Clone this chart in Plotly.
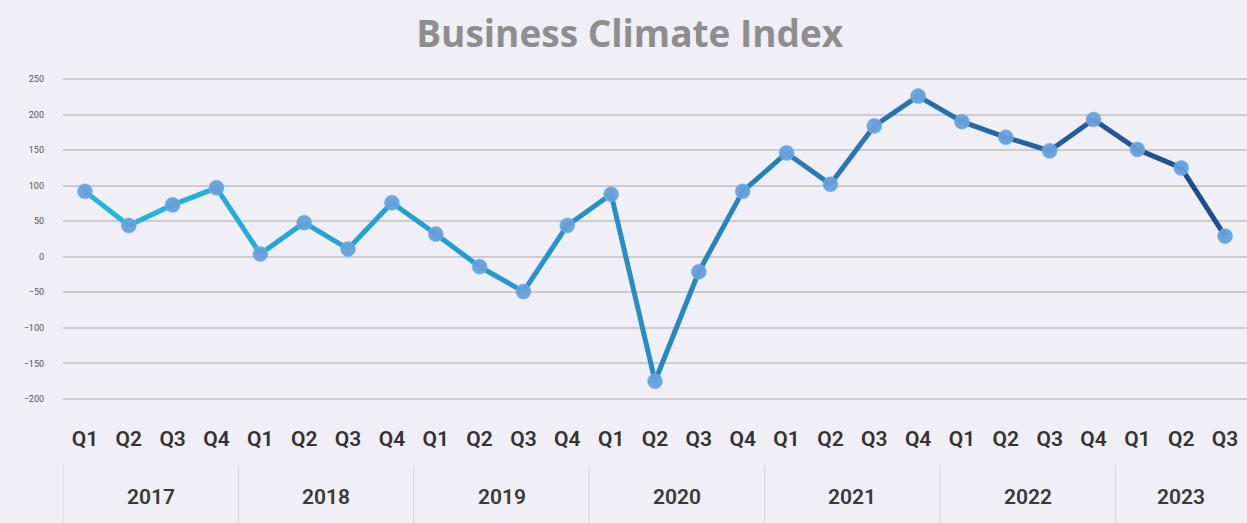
import plotly.graph_objects as go

years = ['2017', '2018', '2019', '2020', '2021', '2022', '2023']
quarters_per_year = [4, 4, 4, 4, 4, 4, 3]
quarters = ['Q1', 'Q2', 'Q3', 'Q4'] * 6 + ['Q1', 'Q2', 'Q3']
index_values = [92, 44, 73, 97,
                4, 48, 11, 76,
                32, -14, -49, 44,
                88, -175, -21, 92,
                146, 102, 184, 226,
                190, 168, 149, 193,
                151, 125, 29]
y_ticks = [250, 200, 150, 100, 50, 0, -50, -100, -150, -200]

xpos = list(range(len(index_values)))

# line fades from cyan to dark blue, left to right
stops = [(0.0, (34, 184, 224)), (0.45, (38, 144, 200)), (0.75, (40, 110, 175)), (1.0, (30, 72, 140))]


def grad(t):
    for (t0, c0), (t1, c1) in zip(stops[:-1], stops[1:]):
        if t <= t1:
            f = (t - t0) / (t1 - t0)
            return 'rgb(%d,%d,%d)' % tuple(round(a + (b - a) * f) for a, b in zip(c0, c1))
    return 'rgb(%d,%d,%d)' % stops[-1][1]


fig = go.Figure()
n = len(index_values)
for i in range(n - 1):
    fig.add_trace(go.Scatter(x=xpos[i:i + 2], y=index_values[i:i + 2], mode='lines',
                             line=dict(color=grad((i + 0.5) / (n - 1)), width=5),
                             hoverinfo='skip', showlegend=False))
fig.add_trace(go.Scatter(x=xpos, y=index_values, mode='markers', showlegend=False,
                         marker=dict(size=15, color='rgba(100,160,220,0.95)',
                                     line=dict(width=1, color='rgba(130,180,230,0.6)'))))

# year labels and dividers under the quarter row
shapes = []
annotations = []
start = 0
for yr, cnt in zip(years, quarters_per_year):
    mid = start + (cnt - 1) / 2
    annotations.append(dict(x=mid, y=-0.255, xref='x', yref='paper', text=yr, showarrow=False,
                            font=dict(size=21, color='#3a3a3a', family='Roboto', weight=600),
                            yanchor='middle'))
    shapes.append(dict(type='line', xref='x', yref='paper', x0=start - 0.5, x1=start - 0.5,
                       y0=-0.16, y1=-0.33, line=dict(color='#d6d6dc', width=1)))
    start += cnt

fig.update_layout(
    width=1247, height=523,
    paper_bgcolor='#f0eff5', plot_bgcolor='#f0eff5',
    margin=dict(l=63, r=0, t=68, b=113),
    title=dict(text='<b>Business Climate Index</b>', x=0.505, xanchor='center', y=0.935, yanchor='middle',
               font=dict(size=37, color='#8e8e8e', family='Open Sans')),
    shapes=shapes, annotations=annotations,
)
fig.update_xaxes(range=[-0.5, n - 0.5], tickvals=xpos, ticktext=quarters, showgrid=False,
                 zeroline=False, showline=False, ticks='', ticklabelstandoff=14,
                 tickfont=dict(size=21, color='#333333', family='Roboto', weight=600))
fig.update_yaxes(range=[-215.5, 265.5], tickvals=y_ticks, showgrid=True, gridcolor='#cbcbd0',
                 gridwidth=2, zeroline=False, ticklabelstandoff=18,
                 tickfont=dict(size=9, color='#555555', family='Roboto'))

fig.write_html('out.html', config={'displayModeBar': False},
               post_script="document.body.style.margin='0';")
